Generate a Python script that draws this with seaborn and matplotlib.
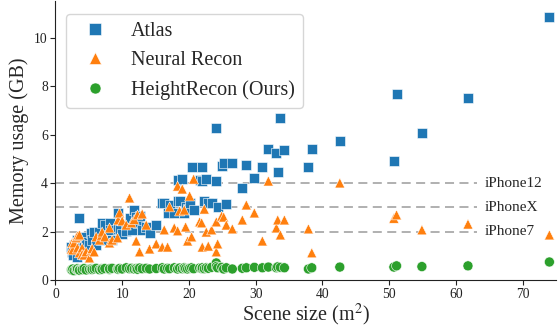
import numpy as np
import pandas as pd
import matplotlib
matplotlib.use("Agg")
import matplotlib.pyplot as plt
import seaborn as sns

scene_size = [2.4, 2.5, 2.6, 2.8, 3.1, 3.3, 3.3, 3.6, 3.6, 4.0, 4.0, 4.3, 4.6, 5.1, 5.4, 5.5, 5.8,
              6.1, 6.6, 6.9, 7.0, 7.4, 8.1, 8.1, 8.5, 9.3, 9.4, 9.6, 10.0, 10.6, 11.1, 11.4, 11.8,
              12.1, 12.3, 12.6, 13.0, 13.6, 14.1, 15.1, 16.0, 16.3, 16.8, 17.1, 17.8, 18.3, 18.3,
              18.6, 19.0, 19.3, 19.5, 19.8, 20.1, 20.4, 20.7, 21.6, 21.9, 22.0, 22.3, 22.6, 22.9,
              23.4, 24.1, 24.1, 24.3, 24.9, 25.2, 25.6, 26.5, 28.0, 28.6, 29.8, 31.0, 31.9, 33.1,
              33.3, 33.7, 34.3, 37.9, 38.4, 42.6, 50.7, 51.1, 54.9, 61.8, 74.0]

atlas = [1.36, 1.16, 1.03, 1.45, 1.32, 0.95, 1.65, 2.56, 1.32, 1.78, 1.24, 1.40, 1.55, 1.45, 1.94, 1.65, 2.00,
         1.45, 1.98, 1.65, 2.36, 2.27, 2.36, 2.07, 1.65, 2.10, 2.77, 2.07, 1.90, 2.03, 2.56, 2.07, 2.89,
         2.60, 2.36, 2.64, 2.07, 2.20, 1.94, 2.27, 3.18, 3.18, 2.77, 3.10, 2.77, 4.13, 3.26,
         3.26, 4.17, 2.77, 3.00, 2.95, 3.20, 4.67, 2.89, 4.13, 4.10, 4.67, 3.26, 4.17, 3.18,
         3.18, 6.28, 4.09, 3.02, 4.71, 4.83, 3.14, 4.83, 3.80, 4.75, 4.21, 4.67, 5.43, 5.25,
         4.46, 6.69, 5.37, 4.67, 5.41, 5.74, 4.92, 7.69, 6.07, 7.52, 10.87]

neural_recon = [1.28, 1.53, 1.24, 1.53, 1.74, 1.32, 1.82, 1.86, 1.12, 1.32, 1.05, 1.03, 1.16, 0.91, 1.24, 1.30, 1.16,
                1.78, 1.65, 1.85, 1.98, 1.78, 2.15, 1.53, 1.65, 1.74, 2.48, 2.77, 2.44, 2.27, 3.39, 2.36, 2.50,
                1.61, 2.69, 1.16, 2.73, 2.27, 1.28, 1.49, 1.36, 2.07, 1.36, 3.02, 2.15, 3.88, 2.03,
                2.85, 3.76, 2.89, 2.19, 1.61, 3.47, 1.78, 4.17, 2.40, 2.36, 1.36, 2.93, 1.98, 1.40,
                2.07, 2.40, 1.16, 1.49, 2.64, 2.60, 2.27, 2.11, 2.48, 3.10, 2.77, 1.61, 4.09, 2.15,
                2.48, 1.86, 2.48, 2.11, 1.12, 4.01, 2.55, 2.69, 2.07, 2.31, 1.86]

height_recon = [0.42, 0.40, 0.45, 0.38, 0.44, 0.42, 0.46, 0.43, 0.40, 0.45, 0.42, 0.47, 0.41, 0.44, 0.46, 0.43, 0.45,
                0.48, 0.42, 0.46, 0.44, 0.47, 0.43, 0.46, 0.48, 0.45, 0.44, 0.47, 0.45, 0.50, 0.46, 0.48, 0.45,
                0.47, 0.44, 0.49, 0.46, 0.48, 0.45, 0.47, 0.50, 0.45, 0.48, 0.46, 0.50, 0.47, 0.45,
                0.49, 0.46, 0.50, 0.47, 0.45, 0.48, 0.50, 0.46, 0.49, 0.47, 0.50, 0.46, 0.50, 0.48,
                0.52, 0.70, 0.55, 0.50, 0.52, 0.45, 0.50, 0.45, 0.48, 0.50, 0.52, 0.50, 0.53, 0.50,
                0.54, 0.52, 0.50, 0.45, 0.50, 0.53, 0.53, 0.58, 0.55, 0.58, 0.74]

methods = ["Atlas", "Neural Recon", "HeightRecon (Ours)"]
marker_map = {"Atlas": "s", "Neural Recon": "^", "HeightRecon (Ours)": "o"}

device_names = ["iPhone12", "iPhoneX", "iPhone7"]
device_memory = [4, 3, 2]

sns.set_style("ticks")
plt.rcParams["font.family"] = ["Liberation Serif", "DejaVu Serif"]
plt.rcParams["mathtext.fontset"] = "stix"

df = pd.DataFrame({
    "scene": scene_size * 3,
    "memory": atlas + neural_recon + height_recon,
    "method": [methods[0]] * len(atlas) + [methods[1]] * len(neural_recon) + [methods[2]] * len(height_recon),
})

fig = plt.figure(figsize=(5.6, 3.32), dpi=100)
ax = fig.add_axes([0.099, 0.157, 0.894, 0.841])

sns.scatterplot(data=df, x="scene", y="memory", hue="method", style="method",
                hue_order=methods, style_order=methods, markers=marker_map,
                palette=["#1f77b4", "#ff7f0e", "#2ca02c"], s=52, linewidth=0.4,
                edgecolor="white", ax=ax, zorder=3)

for name, mem in zip(device_names, device_memory):
    ax.hlines(mem, 0, 63.2, colors="#aaaaaa", linestyles=(0, (5, 3)), linewidth=1.3, zorder=1)
    ax.text(64.3, mem, name, va="center", ha="left", fontsize=11)

ax.set_xlim(0, 75)
ax.set_ylim(0, 11.55)
ax.set_xticks(range(0, 71, 10))
ax.set_yticks(range(0, 11, 2))
ax.tick_params(labelsize=9.8, colors="#222222", pad=2)
for sp in ax.spines.values():
    sp.set_color("#222222")
ax.set_xlabel("Scene size (m$^2$)", fontsize=14.5, labelpad=1)
ax.set_ylabel("Memory usage (GB)", fontsize=14.5)
sns.despine(ax=ax)

handles, labels = ax.get_legend_handles_labels()
ax.legend(handles, labels, loc="upper left", bbox_to_anchor=(0.022, 0.952), borderaxespad=0,
          fontsize=14.5, frameon=True, framealpha=0.8, edgecolor="#cccccc", markerscale=1.1)

fig.savefig("out.png", dpi=100)
